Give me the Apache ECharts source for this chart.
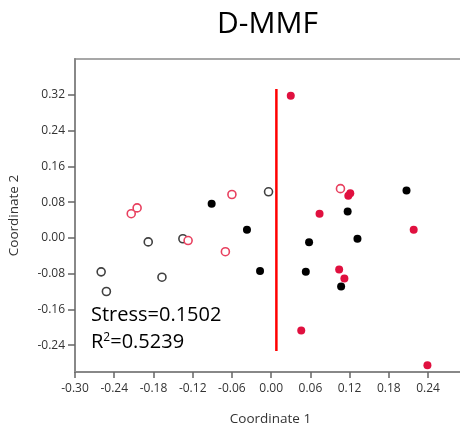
<!DOCTYPE html>
<html><head><meta charset="utf-8">
<script src="https://cdn.jsdelivr.net/npm/echarts@6/dist/echarts.min.js"></script>
<style>html,body{margin:0;padding:0;background:#fff}#c{width:460px;height:428px}</style>
</head><body><div id="c"></div>
<script>
var xTicks = [-0.30,-0.24,-0.18,-0.12,-0.06,0.00,0.06,0.12,0.18,0.24];
var yTicks = [-0.24,-0.16,-0.08,0.00,0.08,0.16,0.24,0.32];
var blackFilled = [[-0.091,0.076],[-0.037,0.018],[0.207,0.106],[0.117,0.059],[0.058,-0.010],[0.132,-0.002],[-0.017,-0.074],[0.053,-0.076],[0.107,-0.109]];
var redFilled = [[0.030,0.318],[0.121,0.100],[0.118,0.094],[0.074,0.054],[0.218,0.018],[0.104,-0.071],[0.112,-0.091],[0.046,-0.207],[0.239,-0.285]];
var blackOpen = [[-0.004,0.103],[-0.260,-0.076],[-0.252,-0.120],[-0.188,-0.009],[-0.167,-0.088],[-0.135,-0.002]];
var redOpen = [[-0.214,0.054],[-0.205,0.067],[-0.060,0.097],[0.106,0.110],[-0.127,-0.006],[-0.070,-0.031]];
var dividerLine = [[0.008,0.333],[0.008,-0.253]];
var statLines = ['Stress=0.1502', 'R{s|2}=0.5239'];

var font = '"Open Sans", "Noto Sans", sans-serif';
var chart = echarts.init(document.getElementById('c'));
chart.setOption({
  animation: false,
  title: { text: 'D-MMF', left: 212, top: 4,
    textStyle: { fontFamily: font, fontSize: 30, fontWeight: 'normal', color: '#000' } },
  grid: { left: 75, top: 59, right: -6, bottom: 56, show: true, borderColor: '#8a8a8a', borderWidth: 1.5,
    containLabel: false, outerBoundsMode: 'none' },
  xAxis: {
    type: 'value', min: -0.30, max: 0.298,
    name: 'Coordinate 1', nameLocation: 'middle', nameGap: 40,
    nameTextStyle: { fontFamily: font, fontSize: 13.5, color: '#333' },
    axisLine: { show: true, onZero: false, lineStyle: { color: '#888', width: 2 } },
    axisTick: { show: true, length: 6, customValues: xTicks, lineStyle: { color: '#666', width: 1.5 } },
    axisLabel: { customValues: xTicks, margin: 11, fontFamily: font, fontSize: 12, color: '#333',
      formatter: function (v) { return v.toFixed(2); } },
    splitLine: { show: false }
  },
  yAxis: {
    type: 'value', min: -0.30, max: 0.40,
    name: 'Coordinate 2', nameLocation: 'middle', nameGap: 54,
    nameTextStyle: { fontFamily: font, fontSize: 13.5, color: '#333' },
    axisLine: { show: true, onZero: false, lineStyle: { color: '#888', width: 2 } },
    axisTick: { show: true, length: 7, customValues: yTicks, lineStyle: { color: '#666', width: 1.5 } },
    axisLabel: { customValues: yTicks, margin: 10, fontFamily: font, fontSize: 12, color: '#333',
      formatter: function (v) { return v.toFixed(2); } },
    splitLine: { show: false }
  },
  series: [
    { type: 'line', data: dividerLine, symbol: 'none', lineStyle: { color: '#ff0000', width: 2.5 }, z: 1 },
    { type: 'scatter', data: blackOpen, symbol: 'circle', symbolSize: 8,
      itemStyle: { color: '#fff', borderColor: '#404040', borderWidth: 1.6, opacity: 1 }, z: 3 },
    { type: 'scatter', data: redOpen, symbol: 'circle', symbolSize: 8,
      itemStyle: { color: '#fff', borderColor: '#e8405f', borderWidth: 1.6, opacity: 1 }, z: 3 },
    { type: 'scatter', data: blackFilled, symbol: 'circle', symbolSize: 8,
      itemStyle: { color: '#000', opacity: 1 }, z: 4 },
    { type: 'scatter', data: redFilled, symbol: 'circle', symbolSize: 8,
      itemStyle: { color: '#e0103f', opacity: 1 }, z: 4 }
  ],
  graphic: [
    { type: 'text', left: 91, top: 305, style: { text: statLines[0], font: '20px ' + font, fill: '#000' } },
    { type: 'text', left: 91, top: 332, style: { text: statLines[1], font: '20px ' + font, fill: '#000',
      rich: { s: { fontSize: 12, verticalAlign: 'top', padding: [0,0,9,0], fontFamily: font } } } }
  ]
});
</script></body></html>
